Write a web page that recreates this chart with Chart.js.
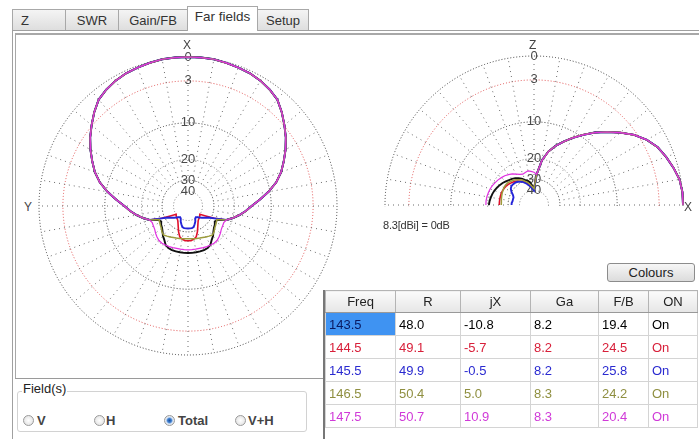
<!DOCTYPE html>
<html>
<head>
<meta charset="utf-8">
<script src="https://cdn.jsdelivr.net/npm/chart.js@4.4.1/dist/chart.umd.min.js"></script>
<style>
html,body{margin:0;padding:0;background:#fff;}
body{width:699px;height:439px;position:relative;overflow:hidden;font-family:"Liberation Sans",Arial,sans-serif;color:#222;}
.tab{position:absolute;top:9px;height:21px;border:1px solid #a8a8a8;border-bottom:none;background:linear-gradient(#f4f4f4,#dedede);font-size:13px;line-height:21px;text-align:center;box-sizing:border-box;color:#333;}
.tab.sel{top:6px;height:25px;line-height:20px;background:#fff;z-index:3;font-size:13.5px;}
#panel{position:absolute;left:12px;top:30px;right:-5px;bottom:-5px;border-left:1px solid #a0a0a0;border-top:1px solid #a0a0a0;}
#inner{position:absolute;left:15px;top:33px;right:-5px;height:344px;border-left:1px solid #a8a8a8;border-top:2px solid #a8a8a8;}
#botline{position:absolute;left:15px;top:378px;width:309px;height:0;border-top:1px solid #9a9a9a;}
.plot{position:absolute;width:311px;height:311px;}
#elwrap{position:absolute;left:379px;top:50px;width:311px;height:157px;overflow:hidden;}
.axl{position:absolute;font-size:12px;color:#444;line-height:12px;}
#ref{position:absolute;left:383px;top:219px;font-size:11px;color:#333;letter-spacing:-0.2px;}
#btn{position:absolute;left:607px;top:263px;width:88px;height:19px;box-sizing:border-box;border:1px solid #8c8c8c;border-radius:3px;background:linear-gradient(#f6f6f6,#dcdcdc);font-size:13px;line-height:17px;text-align:center;color:#222;}
#tblwrap{position:absolute;left:323px;top:290px;width:380px;height:160px;border-left:2px solid #777;}
table{position:absolute;left:0;top:0;border-collapse:collapse;table-layout:fixed;font-size:13px;}
th{height:21px;font-weight:normal;background:linear-gradient(#fbfbfb,#e6e6e6);border:1px solid #b4b4b4;border-bottom:1px solid #999;text-align:center;padding:0;color:#222;}
td{height:22px;border:1px solid #d4d4d4;padding:0 0 0 3px;white-space:nowrap;}
#grp{position:absolute;left:17px;top:391px;width:290px;height:41px;box-sizing:border-box;border:1px solid #d2d2d2;border-radius:3px;}
#grplbl{position:absolute;left:22px;top:381px;font-size:13px;background:#fff;padding:0 1px;color:#222;}
.rad{position:absolute;top:415px;width:11px;height:11px;box-sizing:border-box;border:1px solid #9a9a9a;border-radius:50%;background:radial-gradient(#fff,#dcdcdc);}
.rad.on{background:radial-gradient(circle,#1c4f9c 0,#3f7fd0 2px,#dde8f5 3.5px,#e8e8e8 5px);}
.rlbl{position:absolute;top:413px;font-size:13px;font-weight:bold;color:#444;}
</style>
</head>
<body>
<div id="panel"></div>
<div class="tab" style="left:12px;width:54px;text-align:left;padding-left:8px">Z</div>
<div class="tab" style="left:65px;width:54px">SWR</div>
<div class="tab" style="left:118px;width:70px">Gain/FB</div>
<div class="tab sel" style="left:187px;width:71px">Far fields</div>
<div class="tab" style="left:257px;width:52px">Setup</div>
<div id="inner"></div>
<div id="botline"></div>

<div class="plot" style="left:33px;top:51px"><canvas id="az"></canvas></div>
<div id="elwrap"><div class="plot" style="left:0;top:0"><canvas id="el"></canvas></div></div>

<div class="axl" style="left:183px;top:39px">X</div>
<div class="axl" style="left:24px;top:201px">Y</div>
<div class="axl" style="left:529px;top:39px">Z</div>
<div class="axl" style="left:684px;top:201px">X</div>
<div id="ref">8.3[dBi] = 0dB</div>
<div id="btn">Colours</div>

<div id="tblwrap"><table id="tbl"></table></div>

<div id="grp"></div>
<div id="grplbl">Field(s)</div>
<div class="rad" style="left:23px"></div><div class="rlbl" style="left:37px">V</div>
<div class="rad" style="left:94px"></div><div class="rlbl" style="left:106px">H</div>
<div class="rad on" style="left:164px"></div><div class="rlbl" style="left:178px">Total</div>
<div class="rad" style="left:235px"></div><div class="rlbl" style="left:248px">V+H</div>

<script>
// table values
const freqs = ['143.5', '144.5', '145.5', '146.5', '147.5'];
const colR = ['48.0', '49.1', '49.9', '50.4', '50.7'];
const colJX = ['-10.8', '-5.7', '-0.5', '5.0', '10.9'];
const colGa = ['8.2', '8.2', '8.2', '8.3', '8.3'];
const colFB = ['19.4', '24.5', '25.8', '24.2', '20.4'];
const colOn = ['On', 'On', 'On', 'On', 'On'];
const headers = ['Freq', 'R', 'jX', 'Ga', 'F/B', 'ON'];

// rings of the ARRL scale, dB below maximum
const ringDb = [40, 30, 20, 10, 3, 0];

// azimuth cut, dB below max, shared main lobe from -110 to 110 deg (5 deg steps)
const azFrontDb = [22.2, 20.0, 18.0, 16.2, 14.6, 12.5, 10.3, 8.4, 7.0, 5.9, 4.8, 3.8, 2.9, 2.0, 1.2, 0.8, 0.5, 0.3, 0.2, 0.1, 0, 0,
  0,
  0, 0, 0.1, 0.2, 0.3, 0.5, 0.8, 1.2, 2.0, 2.9, 3.8, 4.8, 5.9, 7.0, 8.4, 10.3, 12.5, 14.6, 16.2, 18.0, 20.0, 22.2];

// azimuth back lobes, 115 to 245 deg
const azBack1435 = [26, 27, 26, 25.4, 24.4, 23, 22, 20.6, 20, 19.8, 19.8, 19.8, 19.8, 19.8, 19.8, 19.8, 19.8, 19.8, 20, 20.6, 22, 23, 24.4, 25.4, 26, 27, 26];
const azBack1445 = [28, 35, 40, 39, 38, 37.5, 36.5, 34.5, 32, 29, 26.5, 25.5, 25, 25, 25, 25.5, 26.5, 29, 32, 34.5, 36.5, 37.5, 38, 39, 40, 35, 28];
const azBack1455 = [28, 32, 34, 36, 38, 40, 41, 40, 37, 35, 33, 32.5, 32.5, 32.5, 32.5, 32.5, 33, 35, 37, 40, 41, 40, 38, 36, 34, 32, 28];
const azBack1465 = [26.5, 26, 25.5, 25, 24, 23.5, 24, 24.5, 25, 25.3, 25.5, 25.8, 26, 26, 26, 25.8, 25.5, 25.3, 25, 24.5, 24, 23.5, 24, 25, 25.5, 26, 26.5];
const azBack1475 = [22.8, 22.6, 22.3, 21.6, 21, 20.5, 20.4, 20.5, 20.6, 20.8, 21, 21, 21, 21, 21, 21, 21, 20.8, 20.6, 20.5, 20.4, 20.5, 21, 21.6, 22.3, 22.6, 22.8];

// elevation cut, 0 to 85 deg shared, then 90 to 180 deg per frequency
const elFrontDb = [0, 0, 0.15, 0.55, 1.0, 1.5, 2.3, 3.4, 4.8, 6.3, 7.8, 9.5, 11.2, 13.0, 14.8, 17.0, 20.5, 27];
const elBack1435 = [38, 35, 32, 30.5, 29.5, 28, 27, 26, 25.3, 24.7, 24, 23.3, 22.7, 22.2, 21.7, 21.3, 21, 20.7, 20.5];
const elBack1445 = [38, 36.5, 35, 33, 31.5, 30, 29, 28, 27.2, 26.6, 26, 25.6, 25.3, 25.1, 25, 25, 25, 25, 25];
const elBack1455 = [40, 38, 36, 34, 32, 30.5, 29.3, 28.5, 28, 27.8, 27.8, 28.5, 30, 32, 33, 33, 33, 32.5, 32.5];
const elBack1465 = [38, 36, 34, 32, 30.5, 29, 28, 27, 26.3, 25.7, 25.2, 25, 25, 25.2, 25.4, 25.6, 25.8, 26, 26];
const elBack1475 = [26, 25.5, 25, 25.5, 26, 25.5, 24.5, 23.5, 22.7, 22, 21.5, 21, 20.6, 20.2, 19.9, 19.7, 19.5, 19.4, 19.4];

const azBack = [azBack1435, azBack1445, azBack1455, azBack1465, azBack1475];
const elBack = [elBack1435, elBack1445, elBack1455, elBack1465, elBack1475];
const colors = ['#111111', '#e0102c', '#2424d8', '#9c9c3c', '#e030e0'];
const lineWidths = [1.9, 1.6, 1.9, 1.5, 1.2];
const textColors = ['#000', '#d8203a', '#2a2ad0', '#8f8f40', '#d03ad8'];

// table
const tbl = document.getElementById('tbl');
const widths = [70, 65, 70, 68, 50, 49];
let html = '<colgroup>' + widths.map(w => '<col style="width:' + w + 'px">').join('') + '</colgroup>';
html += '<tr>' + headers.map(h => '<th>' + h + '</th>').join('') + '</tr>';
freqs.forEach((f, i) => {
  const c = textColors[i];
  const first = i === 0 ? ' style="background:#3f93f2;color:#0a1a60"' : ' style="color:' + c + '"';
  html += '<tr><td' + first + '>' + f + '</td>' +
    [colR[i], colJX[i], colGa[i], colFB[i], colOn[i]].map(v => '<td style="color:' + c + '">' + v + '</td>').join('') + '</tr>';
});
tbl.innerHTML = html;

// ARRL log-periodic radius, 0.89 per 2 dB
const arrl = db => Math.pow(0.89, db / 2);

const labels = [];
for (let a = 0; a < 360; a += 5) labels.push(a);

function azSeries(k) {
  return labels.map(a => {
    let db;
    if (a <= 110) db = azFrontDb[(a + 110) / 5];
    else if (a >= 250) db = azFrontDb[(a - 250) / 5];
    else db = azBack[k][(a - 115) / 5];
    return arrl(db);
  });
}

function elSeries(k) {
  return labels.map((a, i) => {
    let el;
    if (i <= 18) el = 90 - 5 * i;
    else if (i >= 54) el = 90 + 5 * (72 - i);
    else return null;
    const db = el <= 85 ? elFrontDb[el / 5] : elBack[k][(el - 90) / 5];
    return arrl(db);
  });
}

const ringVals = [0].concat(ringDb.map(arrl));
const ringLabels = [''].concat(ringDb.map(String));

function spokeColor(ctx) {
  const s = ctx.scale;
  const g = s.ctx.createRadialGradient(s.xCenter, s.yCenter, 0, s.xCenter, s.yCenter, s.drawingArea);
  g.addColorStop(0, 'rgba(0,0,0,0)');
  g.addColorStop(0.17, 'rgba(0,0,0,0)');
  g.addColorStop(0.18, '#6a6a6a');
  g.addColorStop(1, '#6a6a6a');
  return g;
}

function ringColor(ctx) {
  const l = ringLabels[ctx.index];
  if (l === '3') return '#e05050';
  if (l === '20' || l === '40') return '#808080';
  return '#3a3a3a';
}

Chart.defaults.font.family = '"Liberation Sans", Arial, sans-serif';

function makeChart(id, seriesFn) {
  return new Chart(document.getElementById(id), {
    type: 'radar',
    data: {
      labels: labels,
      datasets: freqs.map((f, k) => ({
        label: f,
        data: seriesFn(k),
        borderColor: colors[k],
        borderWidth: lineWidths[k],
        pointRadius: 0,
        fill: false,
        tension: 0,
        spanGaps: false,
        order: 4 - k
      }))
    },
    options: {
      responsive: true,
      maintainAspectRatio: false,
      animation: false,
      events: [],
      plugins: { legend: { display: false }, tooltip: { enabled: false } },
      scales: {
        r: {
          min: 0,
          max: 1,
          startAngle: 0,
          afterBuildTicks: scale => { scale.ticks = ringVals.map(v => ({ value: v })); },
          ticks: {
            display: true,
            showLabelBackdrop: false,
            backdropPadding: 0,
            color: '#4a4a4a',
            font: { size: 13 },
            callback: (v, i) => ringLabels[i]
          },
          pointLabels: { display: false },
          grid: { circular: true, color: ringColor, lineWidth: 1 },
          border: { dash: [1, 2] },
          angleLines: {
            color: spokeColor,
            lineWidth: ctx => (ctx.index % 2 === 0 ? 1 : 0),
            borderDash: [1, 4]
          }
        }
      }
    }
  });
}

makeChart('az', azSeries);
makeChart('el', elSeries);
</script>
</body>
</html>
